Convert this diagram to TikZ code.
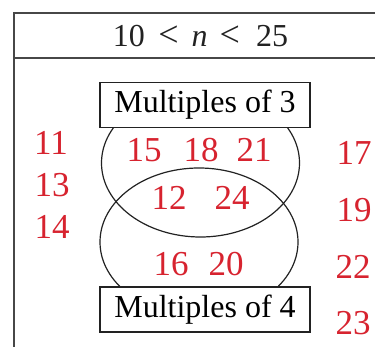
\documentclass[tikz,border=0pt]{standalone}
\usepackage{fontspec}
\setmainfont{Liberation Serif}
\newfontfamily\timesfont{Liberation Serif}
\usetikzlibrary{shapes.geometric}
\definecolor{numred}{HTML}{D7232F}
\definecolor{framegray}{HTML}{474747}
\definecolor{inkblack}{HTML}{222222}
\newcommand{\lessthan}{{\fontsize{36}{36}\selectfont<}}
\begin{document}
\begin{tikzpicture}[
        x=1pt, y=-1pt,
        frame/.style={draw=framegray, line width=2pt},
        region/.style={ellipse, draw=inkblack, line width=1.2pt, minimum width=198pt, minimum height=148pt, inner sep=0pt},
        setlabel/.style={rectangle, draw=inkblack, fill=white, line width=1.3pt, minimum width=210pt, minimum height=45pt, inner sep=0pt, font=\timesfont\fontsize{32}{38}\selectfont},
        num/.style={text=numred, inner sep=0pt, font=\timesfont\fontsize{35}{42}\selectfont}
    ]
    \useasboundingbox (0,0) rectangle (375,347);

    % table frame
    \draw[frame] (14,347) -- (14,13) -- (375,13);
    \draw[frame] (14,58) -- (375,58);
    \node[inner sep=0pt, text=inkblack, font=\timesfont\fontsize{32}{38}\selectfont] (universe) at (200.5,36)
        {10\hspace{0.42em}\lessthan\hspace{0.4em}\textit{n}\hspace{0.38em}\lessthan\hspace{0.5em}25};

    % the two sets
    \node[region] (three) at (200.5,163) {};
    \node[region] (four) at (199,242) {};
    \node[setlabel] (label3) at (205,105) {Multiples of 3};
    \node[setlabel] (label4) at (205,309.5) {Multiples of 4};

    % numbers
    \node[num] (n11) at (51,143) {11};
    \node[num] (n13) at (52,185) {13};
    \node[num] (n14) at (52,227) {14};
    \node[num] (n15) at (144,150) {15};
    \node[num] (n18) at (201,150) {18};
    \node[num] (n21) at (254,150) {21};
    \node[num] (n12) at (169,198) {12};
    \node[num] (n24) at (232,198) {24};
    \node[num] (n16) at (171,264) {16};
    \node[num] (n20) at (226,264) {20};
    \node[num] (n17) at (354,153) {17};
    \node[num] (n19) at (354,210) {19};
    \node[num] (n22) at (353,267) {22};
    \node[num] (n23) at (353,323) {23};
\end{tikzpicture}
\end{document}
